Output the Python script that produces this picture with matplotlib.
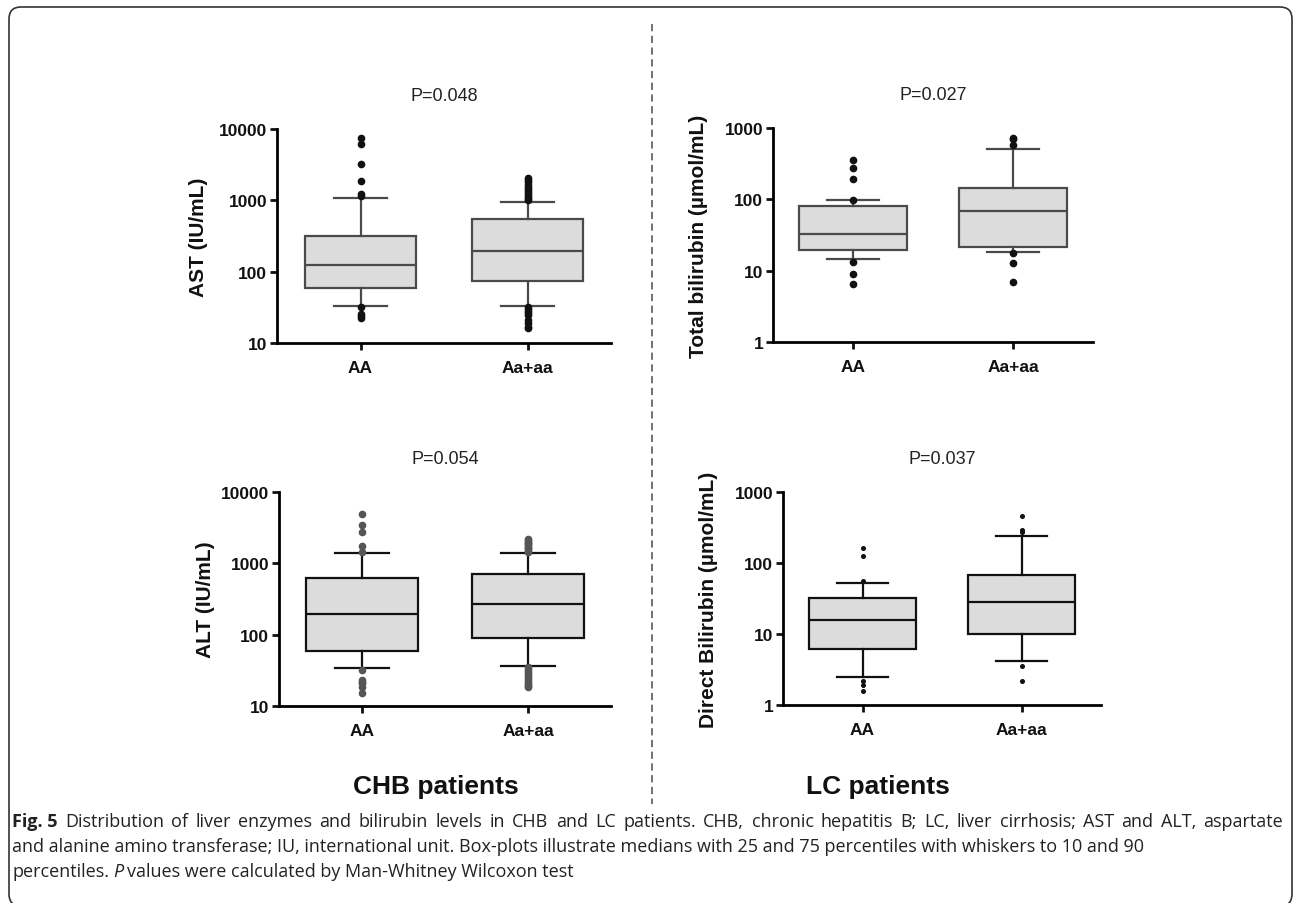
import matplotlib
matplotlib.use("Agg")
import matplotlib.pyplot as plt
from matplotlib.patches import FancyBboxPatch
from matplotlib.lines import Line2D
from matplotlib.ticker import LogLocator, FixedLocator, NullLocator, FuncFormatter

plt.rcParams['font.family'] = ['Liberation Sans', 'DejaVu Sans']

groups = ["AA", "Aa+aa"]

# 箱线图数据: [whislo, q1, med, q3, whishi]
ast_aa = [33, 59, 124, 320, 1080]
ast_aa_fl = [7500, 6170, 3210, 1850, 1230, 1150, 32, 25.5, 23.7, 22.5]
ast_mut = [33, 73, 195, 548, 955]
ast_mut_fl = [2040, 1900, 1780, 1650, 1550, 1450, 1350, 1270, 1200, 1120, 1050, 1000,
              32, 30, 28, 26, 25, 21, 19, 17, 16]

tb_aa = [14.7, 19.6, 32.9, 81, 98.6]
tb_aa_fl = [360, 275, 195, 97, 13.4, 9.0, 6.4]
tb_mut = [18.5, 21.4, 68.5, 145, 508]
tb_mut_fl = [725, 700, 571, 17.9, 12.7, 7.0]

alt_aa = [34, 59, 197, 630, 1410]
alt_aa_fl = [4980, 3410, 2750, 1730, 1450, 32.3, 23.4, 21.5, 20.7, 18.5, 15.2]
alt_mut = [36.4, 88.7, 270, 710, 1410]
alt_mut_fl = [2170, 2100, 2020, 1950, 1880, 1800, 1720, 1650, 1580, 1510, 1450,
              35, 33, 31, 29, 27, 25.5, 24, 22.5, 21, 20, 19, 18.5]

db_aa = [2.48, 6.15, 15.5, 32.4, 52.8]
db_aa_fl = [163, 125, 56, 2.15, 1.9, 1.6]
db_mut = [4.17, 10.1, 28.2, 68.4, 242]
db_mut_fl = [454, 294, 270, 3.6, 2.18]

W, H = 1293, 904
fig = plt.figure(figsize=(W / 100, H / 100), dpi=100)

panels = [
    # (left, top, width, height) 像素, 数据, y标签, P值, y范围, 边框色, 离群点色, 点大小, 标签x
    ((277, 130, 334, 214), (ast_aa, ast_aa_fl, ast_mut, ast_mut_fl), "AST (IU/mL)", "P=0.048",
     (10, 10000), "#4a4a4a", "#111111", 4.5, -0.207),
    ((773, 129, 320, 214), (tb_aa, tb_aa_fl, tb_mut, tb_mut_fl), "Total bilirubin (\u00b5mol/mL)", "P=0.027",
     (1, 1000), "#4a4a4a", "#111111", 4.5, -0.203),
    ((279, 493, 332, 214), (alt_aa, alt_aa_fl, alt_mut, alt_mut_fl), "ALT (IU/mL)", "P=0.054",
     (10, 10000), "#111111", "#555555", 4.5, -0.193),
    ((783, 493, 318, 213), (db_aa, db_aa_fl, db_mut, db_mut_fl), "Direct Bilirubin (\u00b5mol/mL)", "P=0.037",
     (1, 1000), "#111111", "#111111", 2.6, -0.204),
]

for (l, t, w, h), d, ylab, ptxt, ylim, ec, fc, ms, lx in panels:
    ax = fig.add_axes([l / W, 1 - (t + h) / H, w / W, h / H])
    stats = []
    for vals, fl in ((d[0], d[1]), (d[2], d[3])):
        stats.append(dict(whislo=vals[0], q1=vals[1], med=vals[2], q3=vals[3],
                          whishi=vals[4], fliers=fl))
    ax.bxp(stats, positions=[1, 2], widths=0.67, capwidths=0.32, patch_artist=True,
           boxprops=dict(facecolor="#dcdcdc", edgecolor=ec, linewidth=1.6),
           medianprops=dict(color=ec, linewidth=1.6),
           whiskerprops=dict(color=ec, linewidth=1.6),
           capprops=dict(color=ec, linewidth=1.6),
           flierprops=dict(marker="o", markerfacecolor=fc, markeredgecolor=fc,
                           markersize=ms, linestyle="none"))
    ax.set_yscale("log")
    ax.set_ylim(*ylim)
    ax.set_xlim(0.5, 2.5)
    ax.yaxis.set_major_locator(LogLocator(base=10, numticks=10))
    ax.yaxis.set_minor_locator(NullLocator())
    ax.yaxis.set_major_formatter(FuncFormatter(lambda v, p: "%d" % round(v)))
    ax.xaxis.set_major_locator(FixedLocator([1, 2]))
    ax.set_xticklabels(groups, fontweight="bold", fontsize=12.5)
    for lab in ax.get_yticklabels():
        lab.set_fontweight("bold")
        lab.set_fontsize(12.5)
    ax.spines["top"].set_visible(False)
    ax.spines["right"].set_visible(False)
    ax.spines["left"].set_linewidth(2.0)
    ax.spines["bottom"].set_linewidth(2.0)
    ax.tick_params(axis="both", which="major", direction="out", length=5, width=2.0,
                   color="#111111", labelcolor="#111111", pad=2)
    ax.tick_params(axis="x", pad=7)
    ax.set_ylabel(ylab, fontweight="bold", fontsize=15, color="#111111")
    ax.yaxis.set_label_coords(lx, 0.5)
    ax.text(0.5, 1 + 33 / h, ptxt, transform=ax.transAxes, ha="center", va="center",
            fontsize=13, color="#222222")

# 中间的虚线分隔
fig.add_artist(Line2D([652 / W, 652 / W], [1 - 25 / H, 1 - 805 / H], transform=fig.transFigure,
                      color="#666666", linewidth=1.3, linestyle=(0, (4, 2.5))))

fig.text(436 / W, 1 - 787 / H, "CHB patients", ha="center", va="center",
         fontsize=19, fontweight="bold", color="#111111")
fig.text(878 / W, 1 - 787 / H, "LC patients", ha="center", va="center",
         fontsize=19, fontweight="bold", color="#111111")

# 图注 (第一行两端对齐)
cap_font = ["Open Sans", "DejaVu Sans"]
cap_color = "#222222"
cap_size = 13
renderer = fig.canvas.get_renderer()
x0 = 12 / W
line1 = ("Distribution of liver enzymes and bilirubin levels in CHB and LC patients. CHB, chronic "
         "hepatitis B; LC, liver cirrhosis; AST and ALT, aspartate")
words = [("Fig. 5", "bold")] + [(wd, "normal") for wd in line1.split()]
objs = [fig.text(0, 1 - 822 / H, wd, ha="left", va="center", fontsize=cap_size, fontweight=wt,
                 family=cap_font, color=cap_color) for wd, wt in words]
widths = [o.get_window_extent(renderer).width for o in objs]
gap = (1283 - 12 - sum(widths)) / (len(objs) - 1)
xp = 12
for o, wd in zip(objs, widths):
    o.set_x(xp / W)
    xp += wd + gap

fig.text(x0, 1 - 847 / H,
         "and alanine amino transferase; IU, international unit. Box-plots illustrate medians with "
         "25 and 75 percentiles with whiskers to 10 and 90",
         ha="left", va="center", fontsize=cap_size, family=cap_font, color=cap_color)
t3 = fig.text(x0, 1 - 872 / H, "percentiles.", ha="left", va="center", fontsize=cap_size,
              family=cap_font, color=cap_color)
bb = t3.get_window_extent(renderer)
t4 = fig.text((bb.x1 + 4) / W, 1 - 872 / H, "P", ha="left", va="center", fontsize=cap_size,
              family=cap_font, style="italic", color=cap_color)
bb = t4.get_window_extent(renderer)
fig.text((bb.x1 + 4) / W, 1 - 872 / H, "values were calculated by Man-Whitney Wilcoxon test",
         ha="left", va="center", fontsize=cap_size, family=cap_font, color=cap_color)

# 外框
fig.patches.append(FancyBboxPatch((9, -3), 1283, H - 8 + 3, boxstyle="round,pad=0,rounding_size=12",
                                  transform=None, fill=False, edgecolor="#333333", linewidth=1.2))

fig.savefig("out.png", dpi=100)
